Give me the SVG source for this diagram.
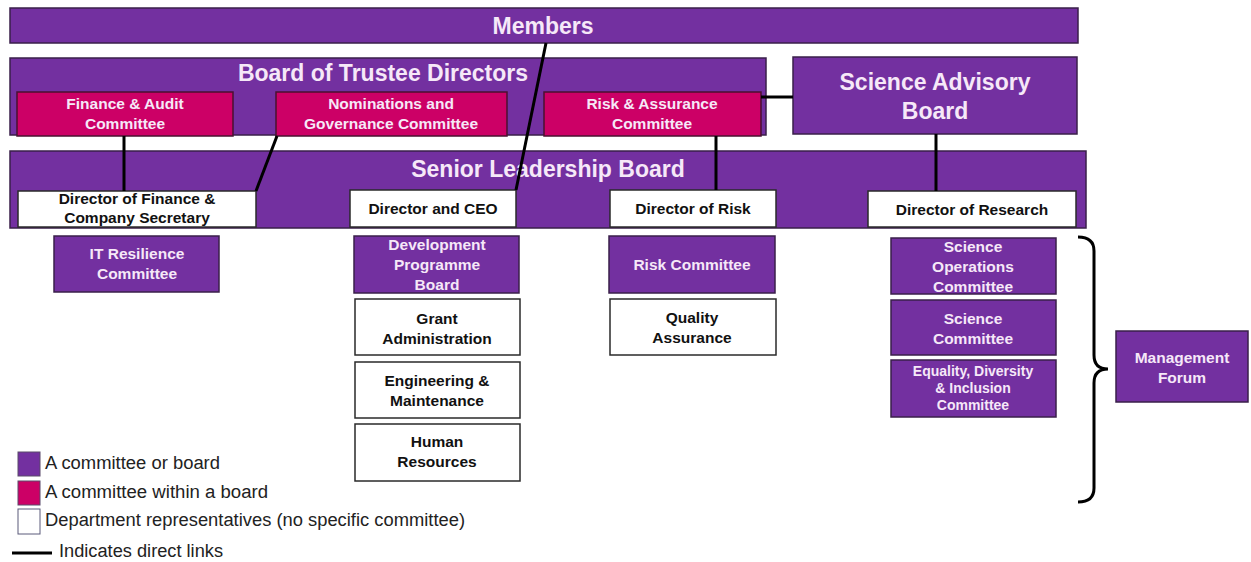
<svg xmlns="http://www.w3.org/2000/svg" width="1251" height="562" viewBox="0 0 1251 562">
<style>
.p{fill:#7330a0;stroke:#3a1f4a;stroke-width:1.5}
.m{fill:#cc0066;stroke:#4a1030;stroke-width:1.5}
.w{fill:#ffffff;stroke:#2a2a2a;stroke-width:1.5}
text{font-family:"Liberation Sans",Arial,sans-serif;font-weight:bold;text-anchor:middle}
.big{font-size:23px;fill:#f6e8f8}
.lt{font-size:15.5px;fill:#f6e8f8}
.dk{font-size:15.5px;fill:#111}
.lg{font-weight:normal;text-anchor:start;font-size:18px;fill:#222}
.c{stroke:#000;stroke-width:3;fill:none}
</style>
<rect width="1251" height="562" fill="#fff"/>
<g id="members"><rect class="p" x="10" y="8" width="1068" height="35"/><text class="big" x="543" y="34">Members</text></g>
<g id="board-of-trustees"><rect class="p" x="10" y="58" width="756" height="77"/><text class="big" x="383" y="81">Board of Trustee Directors</text></g>
<g id="science-advisory"><rect class="p" x="793" y="57" width="284" height="77"/><text class="big" x="935" y="90">Science Advisory</text><text class="big" x="935" y="119">Board</text></g>
<g id="senior-leadership"><rect class="p" x="10" y="151" width="1076" height="77"/><text class="big" x="548" y="177">Senior Leadership Board</text></g>
<g id="finance-audit"><rect class="m" x="17" y="92" width="216" height="44"/><text class="lt" x="125" y="109">Finance &amp; Audit</text><text class="lt" x="125" y="129">Committee</text></g>
<g id="nominations"><rect class="m" x="276" y="92" width="231" height="44"/><text class="lt" x="391" y="109">Nominations and</text><text class="lt" x="391" y="129">Governance Committee</text></g>
<g id="risk-assurance"><rect class="m" x="544" y="92" width="217" height="44"/><text class="lt" x="652" y="109">Risk &amp; Assurance</text><text class="lt" x="652" y="129">Committee</text></g>
<g id="dir-finance"><rect class="w" x="18" y="191" width="238" height="36"/><text class="dk" x="137" y="204">Director of Finance &amp;</text><text class="dk" x="137" y="223">Company Secretary</text></g>
<g id="dir-ceo"><rect class="w" x="350" y="190" width="166" height="37"/><text class="dk" x="433" y="214">Director and CEO</text></g>
<g id="dir-risk"><rect class="w" x="610" y="190" width="166" height="37"/><text class="dk" x="693" y="214">Director of Risk</text></g>
<g id="dir-research"><rect class="w" x="868" y="191" width="208" height="36"/><text class="dk" x="972" y="215">Director of Research</text></g>
<g id="it-resilience"><rect class="p" x="54" y="236" width="165" height="56"/><text class="lt" x="137" y="259">IT Resilience</text><text class="lt" x="137" y="279">Committee</text></g>
<g id="dev-programme"><rect class="p" x="354" y="236" width="165" height="57"/><text class="lt" x="437" y="250">Development</text><text class="lt" x="437" y="270">Programme</text><text class="lt" x="437" y="290">Board</text></g>
<g id="grant-admin"><rect class="w" x="355" y="299" width="165" height="56"/><text class="dk" x="437" y="324">Grant</text><text class="dk" x="437" y="344">Administration</text></g>
<g id="engineering"><rect class="w" x="355" y="362" width="165" height="56"/><text class="dk" x="437" y="386">Engineering &amp;</text><text class="dk" x="437" y="406">Maintenance</text></g>
<g id="human-resources"><rect class="w" x="355" y="424" width="165" height="57"/><text class="dk" x="437" y="447">Human</text><text class="dk" x="437" y="467">Resources</text></g>
<g id="risk-committee"><rect class="p" x="609" y="236" width="166" height="57"/><text class="lt" x="692" y="270">Risk Committee</text></g>
<g id="quality-assurance"><rect class="w" x="610" y="299" width="166" height="56"/><text class="dk" x="692" y="323">Quality</text><text class="dk" x="692" y="343">Assurance</text></g>
<g id="science-ops"><rect class="p" x="891" y="238" width="165" height="56"/><text class="lt" x="973" y="252">Science</text><text class="lt" x="973" y="272">Operations</text><text class="lt" x="973" y="292">Committee</text></g>
<g id="science-committee"><rect class="p" x="891" y="300" width="165" height="55"/><text class="lt" x="973" y="324">Science</text><text class="lt" x="973" y="344">Committee</text></g>
<g id="edi"><rect class="p" x="891" y="360" width="165" height="57"/><text class="lt" x="973" y="376" style="font-size:14px">Equality, Diversity</text><text class="lt" x="973" y="393" style="font-size:14px">&amp; Inclusion</text><text class="lt" x="973" y="410" style="font-size:14px">Committee</text></g>
<g id="management-forum"><rect class="p" x="1116" y="331" width="132" height="71"/><text class="lt" x="1182" y="363">Management</text><text class="lt" x="1182" y="383">Forum</text></g>
<g id="connectors">
<line class="c" x1="546" y1="43" x2="516" y2="190"/>
<line class="c" x1="277" y1="136" x2="256" y2="191"/>
<line class="c" x1="124" y1="136" x2="124" y2="191"/>
<line class="c" x1="716" y1="136" x2="716" y2="190"/>
<line class="c" x1="761" y1="97" x2="793" y2="97"/>
<line class="c" x1="936" y1="134" x2="936" y2="191"/>
<path class="c" d="M1078,237 Q1094,237 1094,251 L1094,355 Q1094,369 1108,369 Q1094,369 1094,383 L1094,488 Q1094,502 1078,502"/>
</g>
<g id="legend">
<rect x="18" y="452" width="22" height="24" fill="#7330a0" stroke="#5a4a6a" stroke-width="1"/>
<rect x="18" y="481" width="22" height="24" fill="#cc0066" stroke="#5a4a6a" stroke-width="1"/>
<rect x="18" y="509" width="22" height="25" fill="#fff" stroke="#5a5a7a" stroke-width="1"/>
<line x1="12" y1="553" x2="52" y2="553" stroke="#000" stroke-width="3"/>
<text class="lg" x="45" y="469" textLength="175" lengthAdjust="spacingAndGlyphs">A committee or board</text>
<text class="lg" x="45" y="498" textLength="223" lengthAdjust="spacingAndGlyphs">A committee within a board</text>
<text class="lg" x="45" y="526" textLength="420" lengthAdjust="spacingAndGlyphs">Department representatives (no specific committee)</text>
<text class="lg" x="59" y="557" textLength="164" lengthAdjust="spacingAndGlyphs">Indicates direct links</text>
</g>
</svg>
